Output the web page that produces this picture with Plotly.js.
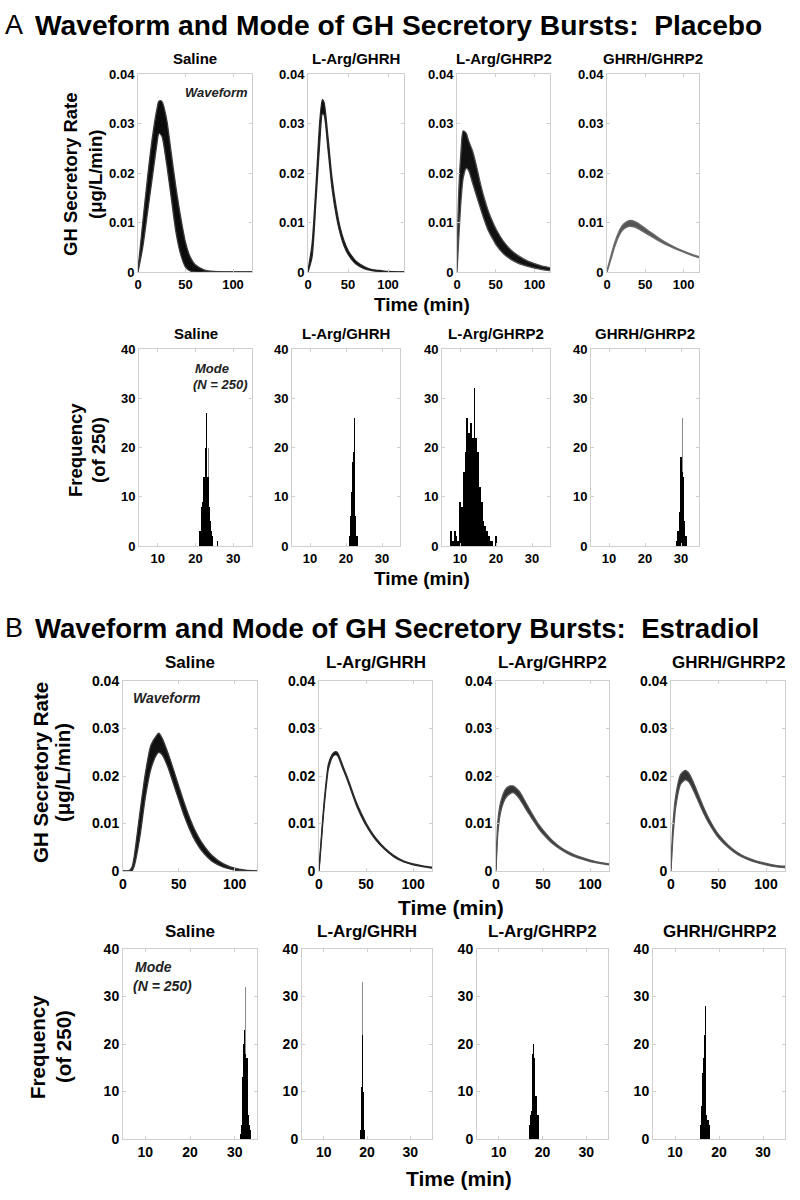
<!DOCTYPE html>
<html>
<head>
<meta charset="utf-8">
<script src="https://cdn.plot.ly/plotly-3.0.1.min.js"></script>
<style>html,body{margin:0;padding:0;background:#fff}#chart{width:800px;height:1200px}</style>
</head>
<body>
<div id="chart"></div>
<script>
// ---------------- DATA ----------------
const conditions = ["Saline", "L-Arg/GHRH", "L-Arg/GHRP2", "GHRH/GHRP2"];
const waveTicksY = [0, 0.01, 0.02, 0.03, 0.04];
const waveTickLabelsY = ["0", "0.01", "0.02", "0.03", "0.04"];
const waveTicksX = [0, 50, 100];
const histTicksY = [0, 10, 20, 30, 40];
const histTicksX = [10, 20, 30];

// Panel A (Placebo) waveforms: time (min), lower and upper envelope of the 250 curves
const pA_sal_t  = [0,5,10,15,20,22,25,30,35,40,45,50,55,60,70,80,90,100,110,120];
const pA_sal_lo = [0,0.005,0.012,0.019,0.026,0.028,0.0275,0.022,0.015,0.008,0.0035,0.001,0.0002,0,0,0,0,0,0,0];
const pA_sal_hi = [0.0005,0.010,0.019,0.027,0.033,0.0345,0.0345,0.031,0.024,0.017,0.011,0.006,0.003,0.0015,0.0004,0.0001,0,0,0,0];

const pA_ghrh_t  = [0,5,10,15,18,20,25,30,35,40,45,50,60,70,80,90,100,110,120];
const pA_ghrh_lo = [0,0.003,0.0145,0.027,0.032,0.0318,0.0248,0.017,0.0117,0.0079,0.0053,0.0036,0.0016,0.0007,0.0003,0.0001,0,0,0];
const pA_ghrh_hi = [0.0003,0.0055,0.0175,0.031,0.0348,0.0343,0.0272,0.019,0.0133,0.0091,0.0063,0.0044,0.0022,0.0011,0.0005,0.0003,0.0001,0,0];

const pA_ghrp_t  = [0,2,5,8,12,15,20,25,30,35,40,45,50,60,70,80,90,100,110,120];
const pA_ghrp_lo = [0,0.006,0.014,0.019,0.021,0.0205,0.018,0.0155,0.013,0.0106,0.0085,0.007,0.0056,0.0037,0.0025,0.0017,0.0012,0.0008,0.0005,0.0003];
const pA_ghrp_hi = [0.001,0.015,0.024,0.0285,0.028,0.0265,0.0245,0.0215,0.018,0.015,0.0125,0.0105,0.0088,0.0062,0.0044,0.0032,0.0023,0.0017,0.0012,0.0009];

const pA_gg_t  = [0,5,10,15,20,25,30,35,40,50,60,70,80,90,100,110,120];
const pA_gg_lo = [0,0.0025,0.0051,0.0071,0.0084,0.0090,0.0092,0.0091,0.0088,0.0079,0.0070,0.0061,0.0053,0.0046,0.0040,0.0034,0.0029];
const pA_gg_hi = [0.0003,0.0032,0.0059,0.0080,0.0094,0.0101,0.0104,0.0103,0.0099,0.0088,0.0077,0.0066,0.0057,0.0049,0.0042,0.0036,0.0031];

// Panel B (Estradiol) waveforms
const pB_sal_t  = [0,5,8,10,15,20,25,30,32,35,40,45,50,55,60,65,70,80,90,100,110,120];
const pB_sal_lo = [0,0,0,0.001,0.007,0.0155,0.0215,0.0245,0.025,0.0245,0.022,0.0185,0.015,0.0115,0.0086,0.0062,0.0044,0.002,0.0008,0.0002,0,0];
const pB_sal_hi = [0,0,0.0008,0.003,0.012,0.0205,0.0265,0.0285,0.029,0.028,0.025,0.0215,0.0178,0.0142,0.011,0.0083,0.0062,0.0032,0.0015,0.0006,0.0002,0];

const pB_ghrh_t  = [0,3,5,8,10,15,18,20,25,30,35,40,45,50,60,70,80,90,100,110,120];
const pB_ghrh_lo = [0,0.0075,0.0125,0.0185,0.0215,0.0242,0.0245,0.0242,0.0217,0.0192,0.0164,0.0137,0.0115,0.0096,0.0066,0.0045,0.0029,0.0019,0.0013,0.0009,0.0006];
const pB_ghrh_hi = [0.0003,0.0085,0.0135,0.0195,0.0225,0.0248,0.0251,0.0248,0.0223,0.0198,0.017,0.0143,0.0121,0.0101,0.0070,0.0048,0.0032,0.0021,0.0015,0.0011,0.0008];

const pB_ghrp_t  = [0,2,5,10,15,18,20,25,30,35,40,45,50,60,70,80,90,100,110,120];
const pB_ghrp_lo = [0,0.008,0.0125,0.0153,0.0163,0.0165,0.0163,0.0152,0.0136,0.012,0.0105,0.009,0.0078,0.0058,0.0044,0.0033,0.0026,0.002,0.0016,0.0013];
const pB_ghrp_hi = [0.0004,0.0105,0.0145,0.0172,0.0179,0.0179,0.0177,0.0167,0.015,0.0132,0.0115,0.0099,0.0086,0.0064,0.0048,0.0037,0.0029,0.0023,0.0018,0.0015];

const pB_gg_t  = [0,2,5,10,15,18,20,25,30,35,40,45,50,60,70,80,90,100,110,120];
const pB_gg_lo = [0,0.007,0.0135,0.0182,0.0192,0.0189,0.0184,0.0164,0.0141,0.0119,0.01,0.0084,0.007,0.005,0.0035,0.0025,0.0018,0.0013,0.0009,0.0007];
const pB_gg_hi = [0.0005,0.0095,0.0158,0.0203,0.0212,0.0208,0.0202,0.018,0.0155,0.0131,0.011,0.0092,0.0077,0.0055,0.0039,0.0028,0.0021,0.0016,0.0012,0.0010];

// Histograms of the mode (time of peak, min), N = 250: bin centres, counts, thin tallest spikes
const hA_sal_x = [21.0,21.25,21.5,21.75,22.0,22.25,22.5,22.75,23.0,23.25,23.5,23.75,24.0,24.25,24.5,25.75];
const hA_sal_n = [3,3,8,9,14,14,14,20,27,14,14,8,5,3,2,1];
const hA_sal_sx = [22.0,23.1,23.45];
const hA_sal_sn = [20,32,20];

const hA_ghrh_x = [21.0,21.25,21.5,21.75,22.0,22.25,22.5,22.75,23.0,23.25];
const hA_ghrh_n = [2,6,11,17,19,26,9,6,2,2];
const hA_ghrh_sx = [22.15];
const hA_ghrh_sn = [32];

const hA_ghrp_x = [7.5,8.0,8.5,9.0,9.5,10.0,10.5,11.0,11.5,12.0,12.5,13.0,13.5,14.0,14.5,15.0,15.5,16.0,16.5,17.0,17.5,18.0,18.5,19.0,19.5,20.0];
const hA_ghrp_n = [3,1,3,2,1,9,8,15,19,26,23,25,22,32,22,19,12,9,5,4,3,2,1,1,0,2];
const hA_ghrp_sx = [];
const hA_ghrp_sn = [];

const hA_gg_x = [28.75,29.0,29.25,29.5,29.75,30.0,30.25,30.5,30.75,31.0,31.25,31.5];
const hA_gg_n = [1,3,3,7,18,23,18,15,14,5,2,2];
const hA_gg_sx = [30.4];
const hA_gg_sn = [26];

const hB_sal_x = [31.25,31.5,31.75,32.0,32.25,32.5,32.75,33.0,33.25,33.5];
const hB_sal_n = [1,3,13,20,23,18,17,5,3,2];
const hB_sal_sx = [32.4];
const hB_sal_sn = [32];

const hB_ghrh_x = [18.5,18.75,19.0,19.25,19.5];
const hB_ghrh_n = [2,11,22,10,2];
const hB_ghrh_sx = [19.0];
const hB_ghrh_sn = [33];

const hB_ghrp_x = [17.0,17.25,17.5,17.75,18.0,18.25,18.5,18.75,19.0];
const hB_ghrp_n = [3,5,6,18,20,17,9,5,5];
const hB_ghrp_sx = [18.0];
const hB_ghrp_sn = [29];

const hB_gg_x = [15.75,16.0,16.25,16.5,16.75,17.0,17.25,17.5,17.75];
const hB_gg_n = [3,7,14,17,22,28,5,4,3];
const hB_gg_sx = [16.8];
const hB_gg_sn = [33];

// ---------------- LAYOUT GEOMETRY (pixels) ----------------
const W = 800, H = 1200;
const fx = p => p / W;
const fy = p => 1 - p / H;
const FONT = "Liberation Sans, Arial, Helvetica, sans-serif";

const waveA = [
  {t: pA_sal_t, lo: pA_sal_lo, hi: pA_sal_hi, fill: "#0c0c0c", line: "#3a3a3a"},
  {t: pA_ghrh_t, lo: pA_ghrh_lo, hi: pA_ghrh_hi, fill: "#0c0c0c", line: "#262626"},
  {t: pA_ghrp_t, lo: pA_ghrp_lo, hi: pA_ghrp_hi, fill: "#111", line: "#4a4a4a"},
  {t: pA_gg_t, lo: pA_gg_lo, hi: pA_gg_hi, fill: "#555", line: "#6a6a6a"}
];
const waveB = [
  {t: pB_sal_t, lo: pB_sal_lo, hi: pB_sal_hi, fill: "#111", line: "#3a3a3a"},
  {t: pB_ghrh_t, lo: pB_ghrh_lo, hi: pB_ghrh_hi, fill: "#111", line: "#2a2a2a"},
  {t: pB_ghrp_t, lo: pB_ghrp_lo, hi: pB_ghrp_hi, fill: "#333", line: "#555"},
  {t: pB_gg_t, lo: pB_gg_lo, hi: pB_gg_hi, fill: "#333", line: "#555"}
];
const histA = [
  {x: hA_sal_x, n: hA_sal_n, sx: hA_sal_sx, sn: hA_sal_sn, w: 0.25},
  {x: hA_ghrh_x, n: hA_ghrh_n, sx: hA_ghrh_sx, sn: hA_ghrh_sn, w: 0.25},
  {x: hA_ghrp_x, n: hA_ghrp_n, sx: hA_ghrp_sx, sn: hA_ghrp_sn, w: 0.5},
  {x: hA_gg_x, n: hA_gg_n, sx: hA_gg_sx, sn: hA_gg_sn, w: 0.25}
];
const histB = [
  {x: hB_sal_x, n: hB_sal_n, sx: hB_sal_sx, sn: hB_sal_sn, w: 0.25},
  {x: hB_ghrh_x, n: hB_ghrh_n, sx: hB_ghrh_sx, sn: hB_ghrh_sn, w: 0.25},
  {x: hB_ghrp_x, n: hB_ghrp_n, sx: hB_ghrp_sx, sn: hB_ghrp_sn, w: 0.25},
  {x: hB_gg_x, n: hB_gg_n, sx: hB_gg_sx, sn: hB_gg_sn, w: 0.25}
];

const rows = [
  {kind: "wave", data: waveA, top: 74, bot: 272, xs: [[138,252],[308,404],[457,550],[607,699]], tick: 13, titleY: 58, titleSize: 15},
  {kind: "hist", data: histA, top: 349, bot: 546, xs: [[139,252],[292,400],[442,550],[591,699]], tick: 13, titleY: 333, titleSize: 15},
  {kind: "wave", data: waveB, top: 681, bot: 871, xs: [[123,257],[319,432],[496,609],[671,785]], tick: 14, titleY: 662, titleSize: 17},
  {kind: "hist", data: histB, top: 949, bot: 1139, xs: [[123,257],[302,432],[477,608],[653,785]], tick: 14, titleY: 931, titleSize: 17}
];

const traces = [];
const layout = {
  width: W, height: H,
  margin: {l: 0, r: 0, t: 0, b: 0},
  paper_bgcolor: "#fff", plot_bgcolor: "#fff",
  showlegend: false,
  barmode: "overlay",
  bargap: 0,
  font: {family: FONT, color: "#000"},
  annotations: []
};

let k = 0;
rows.forEach((row) => {
  row.xs.forEach((xr, j) => {
    k++;
    const xa = "x" + (k === 1 ? "" : k), ya = "y" + (k === 1 ? "" : k);
    const xName = "xaxis" + (k === 1 ? "" : k), yName = "yaxis" + (k === 1 ? "" : k);
    const common = {
      showline: true, mirror: "ticks", linecolor: "#cfcfcf", linewidth: 1,
      ticks: "inside", ticklen: 3, tickcolor: "#cfcfcf", tickwidth: 1,
      showgrid: false, zeroline: false, fixedrange: true,
      tickfont: {family: FONT, size: row.tick, color: "#000", weight: "bold"}
    };
    const isWave = row.kind === "wave";
    layout[xName] = Object.assign({}, common, {
      domain: [fx(xr[0]), fx(xr[1])], anchor: ya,
      range: isWave ? [0, 120] : [5, 35],
      tickmode: "array", tickvals: isWave ? waveTicksX : histTicksX
    });
    layout[yName] = Object.assign({}, common, {
      domain: [fy(row.bot), fy(row.top)], anchor: xa,
      range: isWave ? [0, 0.04] : [0, 40],
      tickmode: "array",
      tickvals: isWave ? waveTicksY : histTicksY,
      ticktext: isWave ? waveTickLabelsY : histTicksY.map(String)
    });
    const d = row.data[j];
    if (isWave) {
      traces.push({type: "scatter", mode: "lines", x: d.t, y: d.lo, xaxis: xa, yaxis: ya,
        line: {color: d.line, width: 1.3, shape: "spline", smoothing: 0.7}, hoverinfo: "skip"});
      traces.push({type: "scatter", mode: "lines", x: d.t, y: d.hi, xaxis: xa, yaxis: ya,
        fill: "tonexty", fillcolor: d.fill,
        line: {color: d.line, width: 1.3, shape: "spline", smoothing: 0.7}, hoverinfo: "skip"});
    } else {
      if (d.sx.length) {
        traces.push({type: "bar", x: d.sx, y: d.sn, width: 0.09, xaxis: xa, yaxis: ya,
          marker: {color: "#8a8a8a", line: {width: 0}}, hoverinfo: "skip"});
      }
      traces.push({type: "bar", x: d.x, y: d.n, width: d.w, xaxis: xa, yaxis: ya,
        marker: {color: "#000", line: {width: 0}}, hoverinfo: "skip"});
    }
    layout.annotations.push({
      xref: "paper", yref: "paper", x: fx((xr[0] + xr[1]) / 2), y: fy(row.titleY),
      xanchor: "center", yanchor: "middle", showarrow: false,
      text: conditions[j], font: {family: FONT, size: row.titleSize, color: "#000", weight: "bold"}
    });
  });
});

function ann(text, x, y, size, opts) {
  layout.annotations.push(Object.assign({
    xref: "paper", yref: "paper", x: fx(x), y: fy(y), xanchor: "center", yanchor: "middle",
    showarrow: false, text: text, font: {family: FONT, size: size, color: "#000", weight: "bold"}
  }, opts || {}));
}

// Section titles
ann("A", 14, 25, 27, {font: {family: FONT, size: 27, color: "#000", weight: "normal"}});
ann("Waveform and Mode of GH Secretory Bursts:  Placebo", 33, 25, 28.2, {xanchor: "left"});
ann("B", 14, 628, 27, {font: {family: FONT, size: 27, color: "#000", weight: "normal"}});
ann("Waveform and Mode of GH Secretory Bursts:  Estradiol", 33, 628, 27.6, {xanchor: "left"});

// Axis titles
ann("GH Secretory Rate", 70, 175, 18.5, {textangle: -90});
ann("(μg/L/min)", 95, 175, 18.5, {textangle: -90});
ann("Frequency", 75, 450, 18.5, {textangle: -90});
ann("(of 250)", 98, 450, 18.5, {textangle: -90});
ann("GH Secretory Rate", 40, 773, 20.5, {textangle: -90});
ann("(μg/L/min)", 62, 773, 20.5, {textangle: -90});
ann("Frequency", 37, 1047, 20.5, {textangle: -90});
ann("(of 250)", 63, 1047, 20.5, {textangle: -90});
ann("Time (min)", 422, 304, 19);
ann("Time (min)", 422, 579, 19);
ann("Time (min)", 451, 907, 21);
ann("Time (min)", 459, 1178, 21);

// In-panel labels
const ital = (s) => ({font: {family: FONT, size: s, color: "#222", weight: "bold", style: "italic"}});
ann("Waveform", 216, 92, 13, ital(13));
ann("Waveform", 166, 698, 14, ital(14));
ann("Mode", 212, 368, 13, ital(13));
ann("(N = 250)", 220, 385, 13, ital(13));
ann("Mode", 153, 967, 14, ital(14));
ann("(N = 250)", 162, 986, 14, ital(14));

Plotly.newPlot("chart", traces, layout, {staticPlot: true, displayModeBar: false});
</script>
</body>
</html>
